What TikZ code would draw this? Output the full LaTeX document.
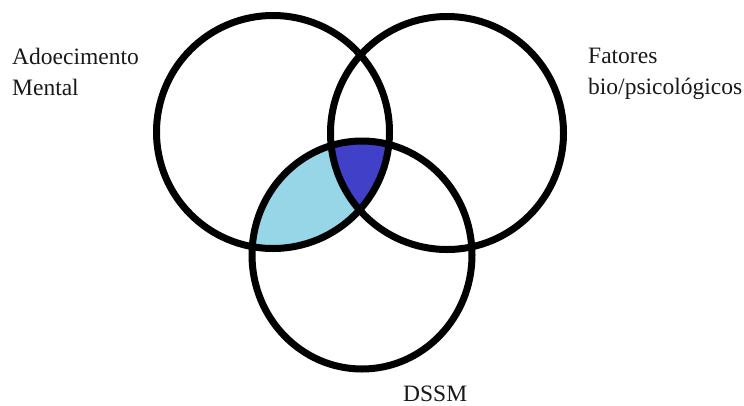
\documentclass[tikz,border=0pt]{standalone}
\usepackage{fontspec}
\setmainfont{Liberation Serif}
\definecolor{lightfill}{RGB}{150,214,230}
\definecolor{darkfill}{RGB}{64,64,200}
\definecolor{txt}{RGB}{25,25,25}
\begin{document}
\begin{tikzpicture}[x=1pt,y=-1pt,
  ring/.style={draw=black,line width=7pt},
  lbl/.style={inner sep=0pt,text=txt,align=left,font=\fontsize{23.5}{31}\selectfont}]
\useasboundingbox[fill=white] (0,0) rectangle (744,405);
\def\leftc{(273,132) circle[radius=116.5pt]}
\def\rightc{(447,133) circle[radius=116.5pt]}
\def\bottomc{(362,255) ellipse[x radius=110pt,y radius=114pt]}
\begin{scope}
  \clip \leftc;
  \clip \bottomc;
  \fill[lightfill] \leftc;
  \fill[darkfill] \rightc;
\end{scope}
\draw[ring] \leftc;
\draw[ring] \rightc;
\draw[ring] \bottomc;
\node[lbl,anchor=base west] (am) at (12,95) {Adoecimento\\Mental};
\node[lbl,anchor=base west] (fb) at (588,94) {Fatores\\bio/psicológicos};
\node[lbl,anchor=base west] (ds) at (403,401) {DSSM};
\end{tikzpicture}
\end{document}
